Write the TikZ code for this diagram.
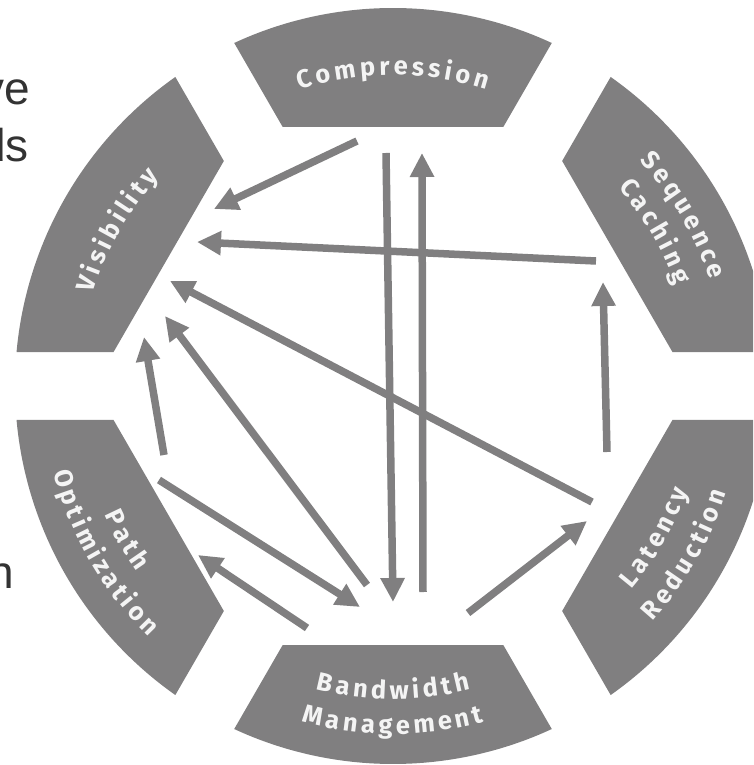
\documentclass[tikz,border=0pt]{standalone}
\usepackage{fontspec}
\setmainfont{Liberation Sans}
\newfontfamily\segfont{Fira Sans}
\usetikzlibrary{arrows.meta}
\definecolor{seggray}{RGB}{128,127,128}
\definecolor{segtext}{RGB}{244,244,244}
\definecolor{sidetext}{RGB}{51,51,51}
\makeatletter
\let\strippt\strip@pt
\makeatother
\newcommand\segfmt{\segfont\bfseries\fontsize{25.5}{30}\selectfont}
\newdimen\segw
\newdimen\segtot
\newdimen\segpos
\newdimen\seggap
\seggap=3.8pt
\newsavebox\letbox
\tikzset{
  segshape/.style={fill=seggray, draw=none},
  seglet/.style={font=\segfmt, text=segtext, inner sep=0pt, anchor=base},
  arr/.style={draw=seggray, line width=7.5pt, -{Triangle[length=24pt,width=23pt]}},
  sidelabel/.style={font=\fontsize{46}{55}\selectfont, text=sidetext, inner sep=0pt, anchor=base east},
}
\newcommand\drawseg[1]{%
  \begin{scope}[rotate=#1-90]
    \path[segshape] (-110.3,259) -- (110.3,259) -- (65.16:378)
      arc[start angle=65.16, end angle=114.84, radius=378] -- cycle;
  \end{scope}}
% measure a word (outside the picture): name, letters -> list letter/offset
\newcommand\measureword[2]{%
  \global\segtot=0pt
  \foreach \chr in {#2} {%
    \setbox\letbox=\hbox{\segfmt\chr}%
    \segw=\wd\letbox
    \ifdim\segw<1pt \segw=14pt\fi
    \global\advance\segtot by \segw
    \global\advance\segtot by \seggap}%
  \global\advance\segtot by -\seggap
  \global\segpos=0pt
  \gdef\tmplist{}%
  \foreach \chr [count=\idx] in {#2} {%
    \setbox\letbox=\hbox{\segfmt\chr}%
    \segw=\wd\letbox
    \ifdim\segw<1pt \segw=14pt\fi
    \edef\offs{\strippt\dimexpr 0.5\segtot-\segpos-0.5\segw\relax}%
    \ifnum\idx=1 \xdef\tmplist{\chr/\offs}\else\xdef\tmplist{\tmplist,\chr/\offs}\fi
    \global\advance\segpos by \segw
    \global\advance\segpos by \seggap}%
  \global\expandafter\let\csname wl@#1\endcsname\tmplist}
% place a measured word along an arc: centre angle, radius, direction (1 = clockwise, tops out; -1 = anticlockwise, tops in), name
\newcommand\arcword[4]{%
  \expandafter\let\expandafter\wlist\csname wl@#4\endcsname
  \foreach \chr/\offs [count=\idx] in \wlist {%
    \pgfmathsetmacro\ang{#1+(#3)*(\offs)/#2*57.29578}%
    \pgfmathsetmacro\rot{\ang-90*(#3)}%
    \node[seglet, rotate=\rot] (#4-\idx) at (\ang:#2) {\chr};}}
\begin{document}
\measureword{cmp}{C,o,m,p,r,e,s,s,i,o,n}%
\measureword{vis}{V,i,s,i,b,i,l,i,t,y}%
\measureword{seq}{S,e,q,u,e,n,c,e}%
\measureword{cac}{C,a,c,h,i,n,g}%
\measureword{bnd}{B,a,n,d,w,i,d,t,h}%
\measureword{mgt}{M,a,n,a,g,e,m,e,n,t}%
\measureword{lat}{L,a,t,e,n,c,y}%
\measureword{red}{R,e,d,u,c,t,i,o,n}%
\measureword{pth}{P,a,t,h}%
\measureword{opt}{O,p,t,i,m,i,z,a,t,i,o,n}%
\begin{tikzpicture}[x=1pt,y=1pt]
\useasboundingbox (-393,-379) rectangle (360,386);
\clip (-393,-379) rectangle (360,386);
% side text fragments
\node[sidelabel] (t1) at (-363,281) {ve};
\node[sidelabel] (t2) at (-364,224) {ds};
\node[sidelabel] (t3) at (-379,-202) {n};
% ring segments
\drawseg{90}
\drawseg{30}
\drawseg{-30}
\drawseg{-90}
\drawseg{-150}
\drawseg{150}
% labels
\arcword{90}{311}{1}{cmp}
\arcword{150.5}{314}{1}{vis}
\arcword{30.5}{334}{1}{seq}
\arcword{30.5}{300}{1}{cac}
\arcword{-90}{313}{-1}{bnd}
\arcword{-90}{348}{-1}{mgt}
\arcword{-30}{313}{-1}{lat}
\arcword{-30}{350}{-1}{red}
\arcword{210}{316}{-1}{pth}
\arcword{210}{350}{-1}{opt}
% connector end points
\coordinate (a1s) at (-36,245);  \coordinate (a1e) at (-179,177);
\coordinate (a2s) at (203,125);  \coordinate (a2e) at (-196,144);
\coordinate (a3s) at (199,-116); \coordinate (a3e) at (-223,105);
\coordinate (a4s) at (-26,-199); \coordinate (a4e) at (-228,70);
\coordinate (a5s) at (-229,-69); \coordinate (a5e) at (-249,49);
\coordinate (a6s) at (-234,-94); \coordinate (a6e) at (-33,-221);
\coordinate (a7s) at (-86,-242); \coordinate (a7e) at (-195,-169);
\coordinate (a8s) at (-7,233);   \coordinate (a8e) at (0,-216);
\coordinate (a9s) at (30,-206);  \coordinate (a9e) at (29,233);
\coordinate (a10s) at (75,-227); \coordinate (a10e) at (194,-135);
\coordinate (a11s) at (214,-66); \coordinate (a11e) at (210,104);
% connectors
\draw[arr] (a1s) -- (a1e);
\draw[arr] (a2s) -- (a2e);
\draw[arr] (a3s) -- (a3e);
\draw[arr] (a4s) -- (a4e);
\draw[arr] (a5s) -- (a5e);
\draw[arr] (a6s) -- (a6e);
\draw[arr] (a7s) -- (a7e);
\draw[arr] (a8s) -- (a8e);
\draw[arr] (a9s) -- (a9e);
\draw[arr] (a10s) -- (a10e);
\draw[arr] (a11s) -- (a11e);
\end{tikzpicture}
\end{document}
